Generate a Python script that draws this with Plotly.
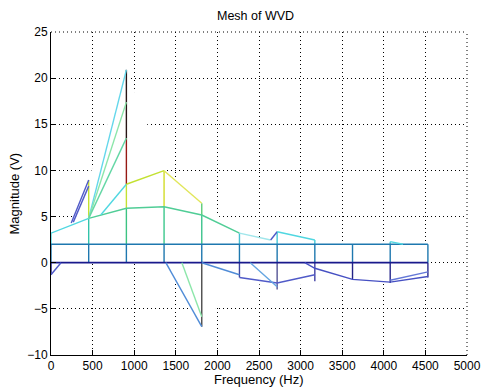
import plotly.graph_objects as go

# ---------------- data ----------------
FREQ = [0, 453, 906, 1359, 1812, 2265, 2718, 3171, 3624, 4077, 4530]
BASE_ROW = [0, 0, 0, 0, 0, 0, 0, 0, 0, 0, 0]
FLAT_ROW = [2, 2, 2, 2, 2, 2, 2, 2, 2, 2, 2]
HUMP_ROW = [3.2, 4.8, 5.9, 6.07, 5.17, 3.2]          # first six frequencies
PEAK_FREQ = [600, 906, 1359, 1812]
PEAK_ROW = [5.2, 8.5, 9.97, 6.45]
SPIKE_TOPS = [20.9, 17.4, 13.5]                      # at 906 Hz, rising from 453 Hz
SPIKE_BASE = 4.8

# column breakpoints (bottom .. top) for the vertical mesh lines
COL_LEVELS = [
    [-1.3, 0, 2, 3.2],
    [0, 2, 4.8, 8.96],
    [0, 2, 5.9, 8.5, 13.5, 20.9],
    [0, 2, 6.07, 9.97],
    [-6.93, 0, 2, 5.17, 6.45],
    [-1.6, 0, 2, 3.2],
    [-2.9, 0, 2, 3.36],
    [-2.0, 0, 2, 2.46],
    [-1.8, 0, 2],
    [-2.2, 0, 2, 2.28],
    [-1.6, 0, 2],
]

# other visible mesh-line pieces: (freqs, magnitudes)
RISE_A_F, RISE_A_V = [243, 453], [4.3, 8.96]
RISE_B_F, RISE_B_V = [268, 453], [4.4, 8.3]
DIP_START_F, DIP_START_V = [0, 120], [-1.3, 0]
TAIL_F, TAIL_V = [2265, 2640, 2718, 3171], [3.2, 2.46, 3.36, 2.46]
NEG_A_F, NEG_A_V = [1380, 1812], [0, -6.93]
NEG_B_F, NEG_B_V = [1573, 1812], [0, -5.85]
NEG_C_F, NEG_C_V = [1812, 2265], [0, -1.3]
NEG_D_F, NEG_D_V = [2265, 2718, 3171], [-1.6, -2.2, -1.3]
NEG_E_F, NEG_E_V = [2395, 2718], [0, -2.6]
NEG_F_F, NEG_F_V = [3050, 3171, 3624, 4077, 4530], [0, -0.6, -1.8, -2.1, -1.5]
NEG_G_F, NEG_G_V = [4077, 4530], [-1.9, -1.0]
SMALL_F, SMALL_V = [4077, 4230], [2.28, 2.0]

# outline of the (opaque white) mesh surface, which hides the grid behind it
MASK_F = [0, 240, 453, 906, 1359, 1812, 2265, 2640, 2718, 3171, 3624, 4077, 4530,
          4530, 4077, 3624, 3171, 2718, 2265, 1812, 1380, 120, 0]
MASK_V = [3.2, 4.3, 8.96, 20.9, 9.97, 6.45, 3.2, 2.46, 3.36, 2.46, 2, 2.28, 2,
          -1.6, -2.2, -1.8, -2.0, -2.9, -1.6, -6.93, 0, 0, -1.3]

X_TICKS = [0, 500, 1000, 1500, 2000, 2500, 3000, 3500, 4000, 4500, 5000]
Y_TICKS = [-10, -5, 0, 5, 10, 15, 20, 25]
X_RANGE = [0, 5000]
Y_RANGE = [-10, 25]

# ---------------- styling ----------------
NAVY = "rgb(25,25,140)"
STEEL = "rgb(30,120,175)"
CYAN = "rgb(80,215,225)"
GREEN = "rgb(80,205,150)"
LGREEN = "rgb(140,230,170)"
YGREEN = "rgb(195,225,50)"
YELLOW = "rgb(225,230,90)"
DRED = "rgb(150,25,20)"
BLACKISH = "rgb(40,20,20)"
SLATE = "rgb(80,90,200)"
BLUE = "rgb(80,140,215)"
GRAY = "rgb(75,75,75)"

COL_COLORS = [
    [NAVY, STEEL, CYAN],
    [STEEL, "rgb(50,195,170)", YGREEN],
    [STEEL, "rgb(60,195,130)", YGREEN, DRED, BLACKISH],
    [STEEL, "rgb(60,200,140)", "rgb(210,220,40)"],
    [GRAY, STEEL, "rgb(60,195,140)", "rgb(90,205,120)"],
    ["rgb(60,70,160)", STEEL, "rgb(70,190,210)"],
    ["rgb(85,85,150)", STEEL, "rgb(70,200,215)"],
    ["rgb(65,65,165)", STEEL, "rgb(70,200,215)"],
    ["rgb(35,35,135)", STEEL],
    ["rgb(40,40,140)", STEEL, "rgb(70,200,215)"],
    ["rgb(40,40,140)", STEEL],
]

DOT = "1px,3px"
fig = go.Figure()

# white surface mask (hides grid lines behind the mesh)
fig.add_trace(go.Scatter(x=MASK_F, y=MASK_V, mode="lines", fill="toself",
                         fillcolor="white", line=dict(color="white", width=1),
                         hoverinfo="skip", showlegend=False))


def seg(xs, ys, color, width=1.4):
    fig.add_trace(go.Scatter(x=xs, y=ys, mode="lines",
                             line=dict(color=color, width=width),
                             hoverinfo="skip", showlegend=False))


# vertical column lines
for f, levels, colors in zip(FREQ, COL_LEVELS, COL_COLORS):
    for i in range(len(levels) - 1):
        seg([f, f], [levels[i], levels[i + 1]], colors[i])

# rows
seg(FREQ, FLAT_ROW, STEEL, 1.6)
seg(FREQ, BASE_ROW, NAVY, 1.8)
seg(FREQ[:2], HUMP_ROW[:2], CYAN)
seg(FREQ[1:6], HUMP_ROW[1:6], GREEN)
seg(TAIL_F[:2], TAIL_V[:2], "rgb(160,230,235)")
seg(TAIL_F[1:3], TAIL_V[1:3], SLATE)
seg(TAIL_F[2:], TAIL_V[2:], CYAN)
seg(PEAK_FREQ[:2], PEAK_ROW[:2], CYAN)
seg(PEAK_FREQ[1:3], PEAK_ROW[1:3], YGREEN)
seg(PEAK_FREQ[2:], PEAK_ROW[2:], YELLOW)
spike_colors = ["rgb(100,215,235)", LGREEN, "rgb(100,215,165)"]
for top, c in zip(SPIKE_TOPS, spike_colors):
    seg([FREQ[1], FREQ[2]], [SPIKE_BASE, top], c)
seg(RISE_A_F, RISE_A_V, SLATE)
seg(RISE_B_F, RISE_B_V, SLATE)
seg(DIP_START_F, DIP_START_V, SLATE)
seg(NEG_A_F, NEG_A_V, BLUE)
seg(NEG_B_F, NEG_B_V, LGREEN)
seg(NEG_C_F, NEG_C_V, BLUE)
seg(NEG_D_F, NEG_D_V, SLATE)
seg(NEG_E_F, NEG_E_V, "rgb(100,165,225)")
seg(NEG_F_F, NEG_F_V, "rgb(70,80,195)")
seg(NEG_G_F, NEG_G_V, "rgb(100,120,215)")
seg(SMALL_F, SMALL_V, CYAN)

FONT = "Liberation Sans, Arial, sans-serif"

axis_common = dict(showgrid=True, gridcolor="black", griddash=DOT, gridwidth=1,
                   showline=True, linecolor="black", linewidth=1, mirror=False,
                   ticks="inside", ticklen=5, tickcolor="black", zeroline=False,
                   tickfont=dict(family=FONT, size=12, color="black"))

fig.update_layout(
    width=493, height=387,
    margin=dict(l=51, r=16, t=32, b=32),
    paper_bgcolor="white", plot_bgcolor="white",
    font=dict(family=FONT, size=12, color="black"),
    showlegend=False,
    xaxis=dict(range=X_RANGE, tickvals=X_TICKS, **axis_common),
    yaxis=dict(range=Y_RANGE, tickvals=Y_TICKS, **axis_common),
    shapes=[
        dict(type="line", xref="paper", yref="paper", x0=0, x1=1, y0=1, y1=1,
             line=dict(color="black", width=1, dash=DOT), layer="below"),
        dict(type="line", xref="paper", yref="paper", x0=1, x1=1, y0=0, y1=1,
             line=dict(color="black", width=1, dash=DOT), layer="below"),
    ],
    annotations=[
        dict(text="Mesh of WVD", xref="paper", yref="paper", x=0.5, y=1,
             xshift=-4, yshift=16, showarrow=False, xanchor="center", yanchor="middle",
             font=dict(family=FONT, size=12.5)),
        dict(text="Frequency (Hz)", xref="paper", yref="paper", x=0.5, y=0,
             yshift=-24, showarrow=False, xanchor="center", yanchor="middle",
             font=dict(family=FONT, size=13)),
        dict(text="Magnitude (V)", xref="paper", yref="paper", x=0, y=0.5,
             xshift=-37, showarrow=False, xanchor="center", yanchor="middle",
             textangle=-90, font=dict(family=FONT, size=13)),
    ],
)

fig.write_html("out.html")
